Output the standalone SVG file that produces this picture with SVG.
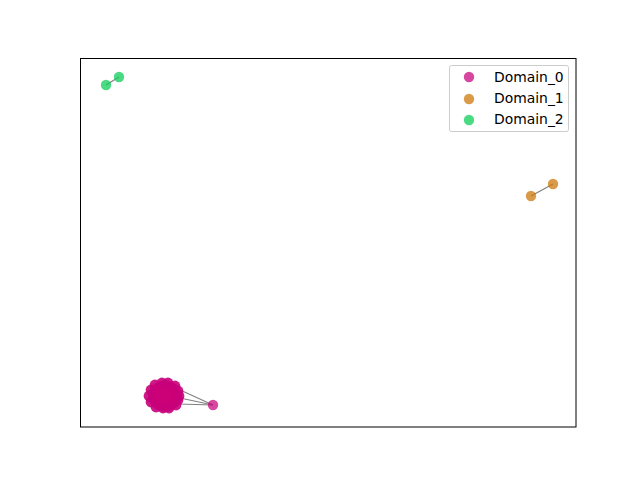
<svg xmlns="http://www.w3.org/2000/svg" width="640" height="480" viewBox="0 0 640 480">
<style>
.e{stroke:#808080;stroke-width:1.2;fill:none}
.d0{fill:#c8007a;fill-opacity:0.72}
.d0c{fill:#c8007a;fill-opacity:0.9}
.d0s{fill:#cc0077}
.d1{fill:#cc7a0a;fill-opacity:0.75}
.d2{fill:#0cce5a;fill-opacity:0.75}
.t{font-family:"DejaVu Sans",sans-serif;font-size:13.9px;fill:#000}
</style>
<rect width="640" height="480" fill="#fff"/>
<rect x="80.5" y="58.5" width="495.5" height="368.5" fill="none" stroke="#000" stroke-width="1"/>
<g id="connectors">
<line class="e" x1="178" y1="389" x2="213" y2="405"/>
<line class="e" x1="180" y1="398" x2="213" y2="405"/>
<line class="e" x1="178" y1="404" x2="213" y2="405"/>
<line class="e" x1="106" y1="85" x2="119" y2="77"/>
<line class="e" x1="531" y1="196" x2="553" y2="184"/>
</g>
<g id="cluster_domain0">
<ellipse class="d0s" cx="165" cy="396" rx="17" ry="15.5"/>
<circle class="d0c" cx="151" cy="390" r="5.4"/>
<circle class="d0c" cx="151" cy="402" r="5.4"/>
<circle class="d0c" cx="155" cy="385" r="5.4"/>
<circle class="d0c" cx="156" cy="407" r="5.4"/>
<circle class="d0c" cx="162" cy="383" r="5.4"/>
<circle class="d0c" cx="168" cy="383" r="5.4"/>
<circle class="d0c" cx="163" cy="408" r="5.4"/>
<circle class="d0c" cx="169" cy="408" r="5.4"/>
<circle class="d0c" cx="175" cy="386" r="5.4"/>
<circle class="d0c" cx="176" cy="405" r="5.4"/>
<circle class="d0c" cx="178" cy="391" r="5.4"/>
<circle class="d0c" cx="178" cy="400" r="5.4"/>
<circle class="d0c" cx="149" cy="396" r="5.4"/>
<circle class="d0c" cx="179" cy="396" r="5.4"/>
</g>
<g id="node_domain0_single"><circle class="d0" cx="213" cy="405" r="5.2"/></g>
<g id="node_domain1_a"><circle class="d1" cx="531" cy="196" r="5.2"/></g>
<g id="node_domain1_b"><circle class="d1" cx="553" cy="184" r="5.2"/></g>
<g id="node_domain2_a"><circle class="d2" cx="106" cy="85" r="5.2"/></g>
<g id="node_domain2_b"><circle class="d2" cx="119" cy="77" r="5.2"/></g>
<g id="legend">
<rect x="449.5" y="65.5" width="119" height="66" rx="2" fill="#fff" fill-opacity="0.8" stroke="#ccc" stroke-width="1"/>
<circle class="d0" cx="469" cy="77" r="5.2"/>
<text class="t" x="494" y="82">Domain_0</text>
<circle class="d1" cx="469" cy="99" r="5.2"/>
<text class="t" x="494" y="103">Domain_1</text>
<circle class="d2" cx="469" cy="120" r="5.2"/>
<text class="t" x="494" y="124">Domain_2</text>
</g>
</svg>
